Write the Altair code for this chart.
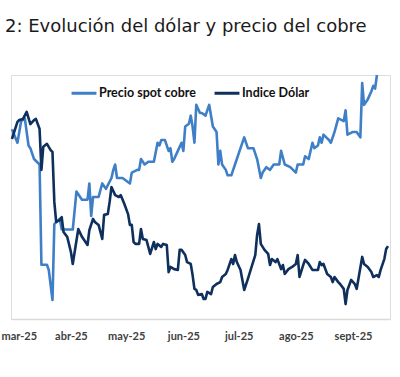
import json
import altair as alt
import pandas as pd

# ---- data ----
inicio = "2025-03-01"  # day offsets below are counted from this date

cobre_dias = [-1, 2, 4, 6, 8, 9, 11, 14, 15, 18, 19, 21, 22, 25, 26, 28, 32, 34, 37, 40,
              41, 42, 43, 46, 48, 50, 53, 54, 55, 56, 59, 61, 63, 64, 67, 68, 69, 71, 73, 76,
              78, 79, 80, 82, 84, 85, 86, 87, 89, 91, 92, 93, 95, 96, 97, 98, 99, 101, 102, 104,
              106, 107, 108, 110, 111, 112, 113, 115, 116, 118, 120, 123, 125, 127, 130, 132, 134, 135, 137, 139,
              141, 144, 145, 147, 150, 153, 154, 157, 158, 160, 162, 163, 165, 166, 167, 168, 171, 172, 174, 176,
              179, 180, 181, 184, 186, 188, 189, 190, 192, 194, 195, 196, 197]
cobre_precio = [4.50, 4.45, 4.53, 4.54, 4.44, 4.43, 4.39, 4.37, 4.00, 4.00, 3.98, 3.87, 4.15, 4.17, 4.13, 4.13, 4.13, 4.27, 4.24, 4.24,
                4.30, 4.18, 4.25, 4.25, 4.30, 4.28, 4.32, 4.35, 4.37, 4.32, 4.32, 4.31, 4.30, 4.34, 4.35, 4.35, 4.39, 4.37, 4.38, 4.38,
                4.45, 4.44, 4.46, 4.46, 4.42, 4.43, 4.38, 4.39, 4.42, 4.45, 4.42, 4.51, 4.52, 4.55, 4.51, 4.45, 4.59, 4.56, 4.56, 4.55,
                4.59, 4.55, 4.51, 4.49, 4.37, 4.42, 4.37, 4.35, 4.33, 4.33, 4.37, 4.43, 4.47, 4.43, 4.43, 4.39, 4.32, 4.34, 4.36, 4.35,
                4.37, 4.37, 4.42, 4.37, 4.36, 4.34, 4.37, 4.37, 4.40, 4.39, 4.45, 4.43, 4.44, 4.47, 4.45, 4.48, 4.46, 4.45, 4.49, 4.54,
                4.53, 4.57, 4.48, 4.49, 4.49, 4.47, 4.67, 4.59, 4.61, 4.64, 4.66, 4.65, 4.70]

dolar_dias = [-1, 2, 3, 5, 7, 9, 11, 12, 14, 15, 16, 18, 20, 21, 22, 23, 25, 26, 27, 29,
              31, 32, 35, 37, 40, 41, 43, 44, 46, 48, 49, 51, 52, 53, 55, 57, 58, 60, 62, 63,
              64, 65, 66, 68, 69, 70, 72, 74, 76, 77, 78, 80, 81, 83, 84, 85, 87, 89, 90, 91,
              93, 94, 96, 97, 98, 99, 100, 102, 103, 104, 105, 107, 108, 110, 112, 113, 115, 116, 118, 119,
              120, 121, 123, 124, 125, 127, 129, 131, 132, 133, 134, 136, 138, 139, 140, 142, 143, 145, 146, 147,
              149, 151, 153, 154, 155, 157, 158, 160, 162, 163, 165, 166, 167, 168, 170, 172, 173, 174, 176, 177,
              179, 180, 181, 183, 185, 186, 189, 190, 192, 194, 195, 197, 198, 199, 201, 202, 203]
dolar_indice = [102.14, 102.77, 102.84, 102.88, 103.14, 102.69, 102.84, 102.88, 102.51, 101.00, 101.85, 101.96, 101.73, 101.66, 99.82, 99.08, 99.15, 99.26, 98.71, 98.53,
                97.97, 97.53, 98.82, 98.53, 98.23, 98.78, 99.19, 99.08, 98.97, 98.45, 99.34, 99.37, 99.82, 100.37, 100.07, 100.00, 100.07, 99.74, 99.37, 98.97,
                98.97, 98.34, 98.27, 98.27, 98.82, 98.45, 98.41, 97.90, 98.34, 98.08, 98.27, 98.16, 98.27, 98.23, 97.23, 97.42, 97.34, 97.31, 98.05, 98.05,
                97.86, 97.60, 97.53, 97.12, 96.61, 96.57, 96.39, 96.42, 96.24, 96.24, 96.50, 96.42, 96.68, 96.79, 96.86, 97.05, 97.16, 97.31, 97.71, 97.53,
                97.86, 97.60, 97.31, 96.94, 96.57, 96.98, 97.42, 97.86, 98.60, 99.00, 98.27, 98.05, 97.90, 97.49, 97.71, 97.60, 97.71, 97.34, 97.49, 97.16,
                97.34, 97.42, 97.53, 97.86, 97.05, 97.49, 97.68, 97.53, 97.31, 97.31, 97.31, 97.60, 97.49, 97.53, 97.16, 97.05, 96.86, 97.05, 96.86, 96.79,
                96.61, 96.05, 96.57, 96.94, 96.79, 96.61, 97.79, 97.53, 97.42, 97.23, 97.05, 97.12, 97.05, 97.31, 97.71, 98.08, 98.19]

series = ["Precio spot cobre", "Indice Dólar"]
colores = ["#3f7fc8", "#0f2f5c"]
etiquetas_x = ["mar-25", "abr-25", "may-25", "jun-25", "jul-25", "ago-25", "sept-25"]
titulo = "2: Evolución del dólar y precio del cobre"

assert len(cobre_dias) == len(cobre_precio)
assert len(dolar_dias) == len(dolar_indice)


def fechas(dias):
    base = pd.Timestamp(inicio)
    return [(base + pd.Timedelta(days=d)).strftime("%Y-%m-%d") for d in dias]


df_cobre = pd.DataFrame({"fecha": fechas(cobre_dias), "valor": cobre_precio, "serie": series[0]})
df_dolar = pd.DataFrame({"fecha": fechas(dolar_dias), "valor": dolar_indice, "serie": series[1]})

x_enc = alt.X(
    "fecha:T",
    scale=alt.Scale(
        type="utc",
        domain=[alt.DateTime(year=2025, month=2, date=27, hours=12, utc=True),
                alt.DateTime(year=2025, month=9, date=21, hours=2, utc=True)],
    ),
    axis=alt.Axis(
        title=None,
        values=[alt.DateTime(year=2025, month=m, date=1, utc=True) for m in range(3, 10)],
        labelExpr=f"{json.dumps(etiquetas_x)}[utcmonth(datum.value) - 2]",
        grid=False,
        ticks=False,
        domainColor="#d9d9d9",
        domainWidth=1.5,
        labelFont="Lato",
        labelFontWeight="bold",
        labelFontSize=11,
        labelColor="#404040",
        labelPadding=11,
        labelFlush=False,
        labelOverlap=False,
        labelOffset={"condition": {"test": "utcmonth(datum.value) == 2", "value": 5}, "value": 0},
    ),
)

color_enc = alt.Color(
    "serie:N",
    scale=alt.Scale(domain=series, range=colores),
    sort=series,
    legend=alt.Legend(
        title=None,
        orient="none",
        direction="horizontal",
        legendX=59,
        legendY=4,
        symbolType="stroke",
        symbolSize=620,
        symbolStrokeWidth=3,
        labelFont="Lato",
        labelFontWeight="bold",
        labelFontSize=12.5,
        labelColor="#111111",
        labelOffset=1,
        columnPadding=12,
        padding=0,
    ),
)

cobre = alt.Chart(df_cobre).mark_line(strokeWidth=2.6, strokeJoin="round").encode(
    x=x_enc,
    y=alt.Y("valor:Q", scale=alt.Scale(domain=[3.80, 4.70], nice=False, zero=False), axis=None),
    color=color_enc,
)

dolar = alt.Chart(df_dolar).mark_line(strokeWidth=2.6, strokeJoin="round").encode(
    x=x_enc,
    y=alt.Y("valor:Q", scale=alt.Scale(domain=[95.5, 104.5], nice=False, zero=False), axis=None),
    color=color_enc,
)

chart = (
    alt.layer(cobre, dolar)
    .resolve_scale(y="independent")
    .properties(
        width=379,
        height=244,
        autosize=alt.AutoSizeParams(type="none"),
        padding={"left": 11, "top": 75, "right": 10, "bottom": 58},
        title=alt.TitleParams(
            titulo,
            anchor="start",
            frame="group",
            font="DejaVu Sans",
            fontSize=18,
            fontWeight="normal",
            color="#1a1a1a",
            baseline="alphabetic",
            dx=-6,
            offset=24,
        ),
    )
    .configure_view(stroke=None)
    .configure(background="white")
)

chart.save("out.html", embed_options={"renderer": "svg", "actions": False})
